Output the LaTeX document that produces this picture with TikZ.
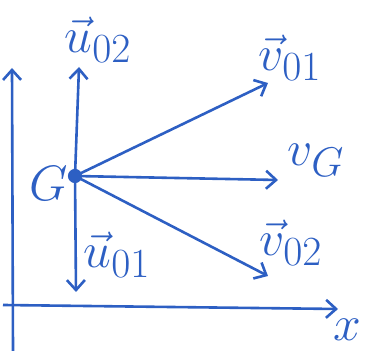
\documentclass[tikz,border=0pt]{standalone}
\usepackage{amsmath,amssymb}
\usepackage{tikz}
\usetikzlibrary{arrows.meta}
\definecolor{ink}{RGB}{45,95,195}

\begin{document}
\begin{tikzpicture}[x=0.5pt,y=-0.5pt,ink,line width=1.3pt,
		vec/.style={-{Straight Barb[length=5pt,width=9pt]}},
		lab/.style={font=\Huge}]
		\useasboundingbox (0,0) rectangle (365,351);
		% axes
		\coordinate (ybot) at (13,351);
		\coordinate (ytop) at (12,68);
		\coordinate (xleft) at (3,305);
		\coordinate (xright) at (338,309);
		\draw[vec] (ybot) -- (ytop);
		\draw[vec] (xleft) -- (xright);
		\node[lab] (xlab) at (347,330) {$x$};
		% point G
		\node[circle,fill,inner sep=2.5pt] (G) at (75,176) {};
		\node[lab] (Glab) at (49,184) {$G$};
		% arrow ends
		\coordinate (u2) at (79,67);
		\coordinate (u1) at (76,292);
		\coordinate (v1) at (268,83);
		\coordinate (vG) at (278,180);
		\coordinate (v2) at (268,276);
		% velocities
		\draw[vec] (G.center) -- (u2);
		\draw[vec] (G.center) -- (u1);
		\draw[vec] (G.center) -- (v1);
		\draw[vec] (G.center) -- (vG);
		\draw[vec] (G.center) -- (v2);
		% labels
		\node[lab] (u2lab) at (98,40) {$\vec{u}_{02}$};
		\node[lab] (u1lab) at (117,255) {$\vec{u}_{01}$};
		\node[lab] (v1lab) at (290,58) {$\vec{v}_{01}$};
		\node[lab] (vGlab) at (316,160) {$v_G$};
		\node[lab] (v2lab) at (291,243) {$\vec{v}_{02}$};
	\end{tikzpicture}
\end{document}
